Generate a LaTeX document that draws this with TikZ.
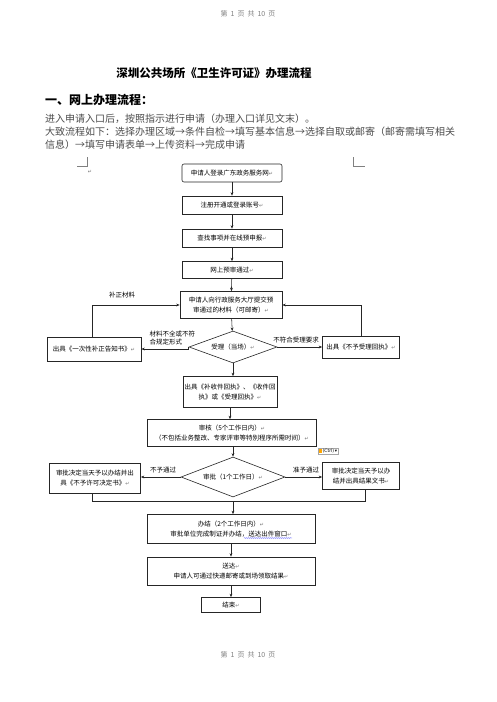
\documentclass[tikz,border=0pt]{standalone}
\usepackage{fontspec}
\usetikzlibrary{arrows.meta,shapes.geometric,decorations.pathmorphing}
\newfontfamily\cjk{Noto Sans CJK SC}
\newfontfamily\dvs{DejaVu Sans}
\newcommand\pmk{{\dvs\fontsize{5}{5}\selectfont\textcolor{black!55}{↵}}}
\tikzset{
  box/.style={draw=black!85, line width=0.6pt, font=\cjk\fontsize{6.5}{10}\selectfont, align=center, inner sep=1pt},
  dia/.style={box, diamond, inner sep=0pt},
  arr/.style={-{Stealth[length=3.5pt,width=2.8pt]}, line width=0.55pt, draw=black!85},
  lbl/.style={font=\cjk\fontsize{6.5}{8}\selectfont, inner sep=0.5pt, align=left},
  body/.style={font=\cjk\fontsize{10}{12}\selectfont, text=black!70, anchor=west, inner sep=0pt},
  pageno/.style={font=\cjk\fontsize{7}{8}\selectfont, text=black!50, inner sep=0pt}
}
\begin{document}
\begin{tikzpicture}[x=1pt,y=-1pt]
\useasboundingbox (0,0) rectangle (496,702);
\fill[white] (0,0) rectangle (496,702);

% header / footer
\node[pageno] (hdr) at (248,14) {第\hspace{3pt}1\hspace{3pt}页\hspace{3pt}共\hspace{3pt}10\hspace{3pt}页};
\node[pageno] (ftr) at (248,655) {第\hspace{3pt}1\hspace{3pt}页\hspace{3pt}共\hspace{3pt}10\hspace{3pt}页};

% title and text
\node[font=\cjk\bfseries\fontsize{11.5}{13}\selectfont, inner sep=0pt] (title) at (214,73) {深圳公共场所《卫生许可证》办理流程};
\node[font=\cjk\bfseries\fontsize{12}{13}\selectfont, anchor=west, inner sep=0pt] (sec) at (45,100) {一、网上办理流程：};
\node[body] (t1) at (45,119) {进入申请入口后，按照指示进行申请（办理入口详见文末）。};
\node[body] (t2) at (45,132) {大致流程如下：选择办理区域→条件自检→填写基本信息→选择自取或邮寄（邮寄需填写相关};
\node[body] (t3) at (45,145) {信息）→填写申请表单→上传资料→完成申请};

% margin marks
\draw[black!50, line width=0.4pt] (77,166) -- (87,166) -- (87,157);
\draw[black!50, line width=0.4pt] (353,157) -- (353,166) -- (365,166);
\node[inner sep=0pt] (pm0) at (90,172) {\pmk};

% flowchart boxes
\node[box, rounded corners=2pt, minimum width=100pt, minimum height=18pt] (b1) at (232,173) {申请人登录广东政务服务网\pmk};
\node[box, minimum width=100pt, minimum height=18pt] (b2) at (232,205) {注册开通或登录账号\pmk};
\node[box, minimum width=100pt, minimum height=18pt] (b3) at (232,238) {查找事项并在线预申报\pmk};
\node[box, minimum width=100pt, minimum height=17pt] (b4) at (232,270) {网上预审通过\pmk};
\node[box, minimum width=102pt, minimum height=27pt] (b5) at (231,305) {申请人向行政服务大厅提交预\\审通过的材料（可邮寄）\pmk};
\node[dia, minimum width=88pt, minimum height=32pt, aspect=2.75] (d1) at (233,347) {受理（当场）\pmk};
\node[box, minimum width=94pt, minimum height=24pt] (lb1) at (94,349) {出具《一次性补正告知书》\pmk};
\node[box, minimum width=77pt, minimum height=22pt] (rb1) at (361,347) {出具《不予受理回执》\pmk};
\node[box, minimum width=94pt, minimum height=31pt] (b6) at (230,392) {出具《补收件回执》、《收件回\\执》或《受理回执》\pmk};
\node[box, minimum width=169pt, minimum height=27pt] (b7) at (232,433) {审核（5个工作日内）\pmk\\（不包括业务整改、专家评审等特别程序所需时间）\pmk};
\node[dia, minimum width=104pt, minimum height=40pt, aspect=2.6] (d2) at (233,477) {审批（1个工作日）\pmk};
\node[box, minimum width=91pt, minimum height=30pt] (lb2) at (95,478) {审批决定当天予以办结并出\\具《不予许可决定书》\pmk};
\node[box, minimum width=77pt, minimum height=27pt] (rb2) at (361,476) {审批决定当天予以办\\结并出具结果文书\pmk};
\node[box, minimum width=168pt, minimum height=29pt] (b9) at (231,529) {办结（2个工作日内）\pmk\\审批单位完成制证并办结，送达出件窗口\pmk};
\node[box, minimum width=168pt, minimum height=28pt] (b10) at (231,571) {送达\pmk\\申请人可通过快递邮寄或到场领取结果\pmk};
\node[box, minimum width=59pt, minimum height=15pt] (b11) at (231,605) {结束\pmk};

% spell-check underline
\draw[blue!70, line width=0.3pt, decorate, decoration={snake,amplitude=0.4pt,segment length=2pt}] (244,538) -- (292,538);

% paste-options icon
\node[draw=black!35, fill=white, inner sep=0.8pt, font=\dvs\fontsize{4.5}{5}\selectfont] (ctrl) at (328,451) {\textcolor{orange!70!yellow}{\rule{3pt}{4pt}}\,(Ctrl)\,▾};

% connectors
\draw[arr] (b1) -- (b2);
\draw[arr] (b2) -- (b3);
\draw[arr] (b3) -- (b4);
\draw[arr] (b4) -- (b5);
\draw[arr] (b5) -- (d1);
\draw[arr] (d1.west) -- (lb1.east -| d1.west) -- (lb1.east);
\node[lbl, anchor=south west] (l1) at (149,346) {材料不全或不符\\合规定形式};
\draw[arr] (d1.east) -- (rb1.west);
\node[lbl, anchor=south] (l2) at (296,344) {不符合受理要求};
\draw[arr] (rb1.north) |- (b5.east);
\coordinate (lt) at ([xshift=-2pt]lb1.north);
\draw[arr] (lt) |- (b5.west);
\node[lbl] (l3) at (122,295) {补正材料};
\draw[arr] (d1.south) -- (b6.north -| d1.south);
\draw[arr] (b6) -- (b7.north -| b6);
\draw[arr] (b7.south -| d2.north) -- (d2.north);
\draw[arr] (d2.west) -- (d2.west -| lb2.east);
\node[lbl, anchor=south] (l4) at (163,474) {不予通过};
\draw[arr] (d2.east) -- (d2.east -| rb2.west);
\node[lbl, anchor=south] (l5) at (306,474) {准予通过};
\coordinate (m) at (233,501);
\coordinate (lb2s) at ([xshift=-3pt]lb2.south);
\coordinate (rb2s) at ([xshift=4pt]rb2.south);
\draw[line width=0.55pt, draw=black!85] (lb2s) |- (m);
\draw[line width=0.55pt, draw=black!85] (rb2s) |- (m);
\draw[arr] (m) -- (b9.north -| m);
\draw[arr] (b9) -- (b10);
\draw[arr] (b10) -- (b11);
\end{tikzpicture}
\end{document}
